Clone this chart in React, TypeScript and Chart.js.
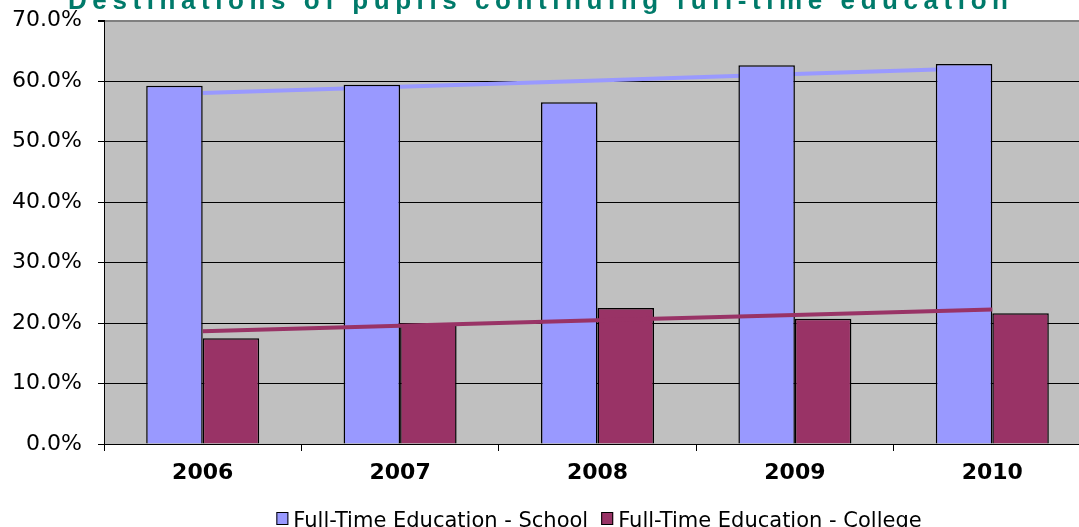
import React, { useEffect, useRef } from "react";
import { Chart, registerables } from "chart.js";

Chart.register(...registerables);

const chartTitle = "Destinations of pupils continuing full-time education";
const categories = ["2006", "2007", "2008", "2009", "2010"];
const schoolLabel = "Full-Time Education - School";
const collegeLabel = "Full-Time Education - College";
const schoolValues = [59.2, 59.4, 56.5, 62.6, 62.8];
const collegeValues = [17.5, 19.9, 22.5, 20.7, 21.6];
const yMin = 0;
const yMax = 70;
const yStep = 10;

const schoolColor = "#9999FF";
const collegeColor = "#993366";

// Linear (least-squares) trendline, like Excel's trendline
function linearTrend(values: number[]): number[] {
  const n = values.length;
  const xs = values.map((_, i) => i + 1);
  const mx = xs.reduce((a, b) => a + b, 0) / n;
  const my = values.reduce((a, b) => a + b, 0) / n;
  let num = 0;
  let den = 0;
  for (let i = 0; i < n; i++) {
    num += (xs[i] - mx) * (values[i] - my);
    den += (xs[i] - mx) * (xs[i] - mx);
  }
  const slope = num / den;
  return xs.map((x) => my + slope * (x - mx));
}

const plotBgPlugin = {
  id: "plotBg",
  beforeDraw(chart: any) {
    const { ctx, chartArea } = chart;
    ctx.save();
    ctx.fillStyle = "#C0C0C0";
    ctx.fillRect(chartArea.left, chartArea.top, chartArea.right - chartArea.left, chartArea.bottom - chartArea.top);
    ctx.restore();
  },
};

const titlePlugin = {
  id: "customTitle",
  afterDraw(chart: any) {
    const { ctx } = chart;
    ctx.save();
    ctx.font = 'bold 26px "Liberation Sans", Arial, sans-serif';
    ctx.fillStyle = "#007A6A";
    ctx.textAlign = "left";
    ctx.textBaseline = "alphabetic";
    (ctx as any).letterSpacing = "0px";
    const w0 = ctx.measureText(chartTitle).width;
    const targetWidth = 940;
    const spacing = (targetWidth - w0) / (chartTitle.length - 1);
    (ctx as any).letterSpacing = spacing + "px";
    ctx.fillText(chartTitle, 68, 9);
    ctx.restore();
  },
};

const legendPlugin = {
  id: "customLegend",
  afterDraw(chart: any) {
    const { ctx } = chart;
    const items = chart.data.datasets.filter((d: any) => d.type === "bar");
    ctx.save();
    ctx.font = '21px "DejaVu Sans", sans-serif';
    ctx.textBaseline = "alphabetic";
    const boxW = 12;
    const boxH = 13;
    const gapBoxText = 5;
    const gapItems = 13;
    const widths = items.map((d: any) => boxW + gapBoxText + ctx.measureText(d.label).width);
    const total = widths.reduce((a: number, b: number) => a + b, 0) + gapItems * (items.length - 1);
    let x = 599 - total / 2;
    const baseline = 527;
    items.forEach((d: any, i: number) => {
      ctx.fillStyle = d.backgroundColor;
      ctx.fillRect(x, 512, boxW, boxH);
      ctx.strokeStyle = "#000";
      ctx.lineWidth = 1;
      ctx.strokeRect(x + 0.5, 512.5, boxW - 1, boxH - 1);
      ctx.fillStyle = "#000";
      ctx.fillText(d.label, x + boxW + gapBoxText, baseline);
      x += widths[i] + gapItems;
    });
    ctx.restore();
  },
};

export default function App() {
  const canvasRef = useRef<HTMLCanvasElement | null>(null);

  useEffect(() => {
    if (!canvasRef.current) return;
    const chart = new Chart(canvasRef.current, {
      type: "bar",
      data: {
        labels: categories,
        datasets: [
          {
            type: "line",
            label: "School trend",
            data: linearTrend(schoolValues),
            borderColor: schoolColor,
            borderWidth: 4,
            pointRadius: 0,
            fill: false,
            tension: 0,
            order: 3,
          } as any,
          {
            type: "bar",
            label: schoolLabel,
            data: schoolValues,
            backgroundColor: schoolColor,
            borderColor: "#000000",
            borderWidth: 1.5,
            barPercentage: 1,
            categoryPercentage: 0.5725,
            order: 2,
          },
          {
            type: "bar",
            label: collegeLabel,
            data: collegeValues,
            backgroundColor: collegeColor,
            borderColor: "#000000",
            borderWidth: 1.5,
            barPercentage: 1,
            categoryPercentage: 0.5725,
            order: 2,
          },
          {
            type: "line",
            label: "College trend",
            data: linearTrend(collegeValues),
            borderColor: collegeColor,
            borderWidth: 4,
            pointRadius: 0,
            fill: false,
            tension: 0,
            order: 0,
          } as any,
        ],
      },
      options: {
        responsive: false,
        animation: false,
        devicePixelRatio: 1,
        layout: { padding: { left: 0, right: 19, top: 20.5, bottom: 0 } },
        plugins: {
          legend: { display: false },
          tooltip: { enabled: false },
          title: { display: false },
        },
        scales: {
          x: {
            offset: true,
            grid: {
              offset: true,
              drawOnChartArea: false,
              drawTicks: true,
              tickLength: 7,
              color: "#000000",
            },
            border: { color: "#000000", width: 1 },
            ticks: {
              color: "#000000",
              padding: 9,
              font: { family: '"DejaVu Sans", sans-serif', size: 22, weight: "bold" },
            },
            afterFit(scale: any) {
              scale.height = 83;
              scale.paddingLeft = 0;
              scale.paddingRight = 0;
            },
          },
          y: {
            min: yMin,
            max: yMax,
            ticks: {
              stepSize: yStep,
              color: "#000000",
              padding: 16,
              font: { family: '"DejaVu Sans", sans-serif', size: 22 },
              callback: (v: any) => Number(v).toFixed(1) + "%",
            },
            grid: {
              color: (c: any) => (c.tick && c.tick.value === yMax ? "#808080" : "#000000"),
              lineWidth: (c: any) => (c.tick && c.tick.value === yMax ? 2 : 1),
              tickColor: "#000000",
              tickLength: 6,
              drawTicks: true,
            },
            border: { color: "#000000", width: 1 },
            afterFit(scale: any) {
              scale.width = 104;
              scale.paddingTop = 0;
              scale.paddingBottom = 0;
            },
          },
        },
      },
      plugins: [plotBgPlugin, titlePlugin, legendPlugin],
    });
    return () => chart.destroy();
  }, []);

  return (
    <div
      style={{
        position: "fixed",
        left: 0,
        top: 0,
        width: "1079px",
        height: "527px",
        overflow: "hidden",
        background: "#ffffff",
      }}
    >
      <canvas ref={canvasRef} width={1110} height={527} style={{ display: "block" }} />
    </div>
  );
}
